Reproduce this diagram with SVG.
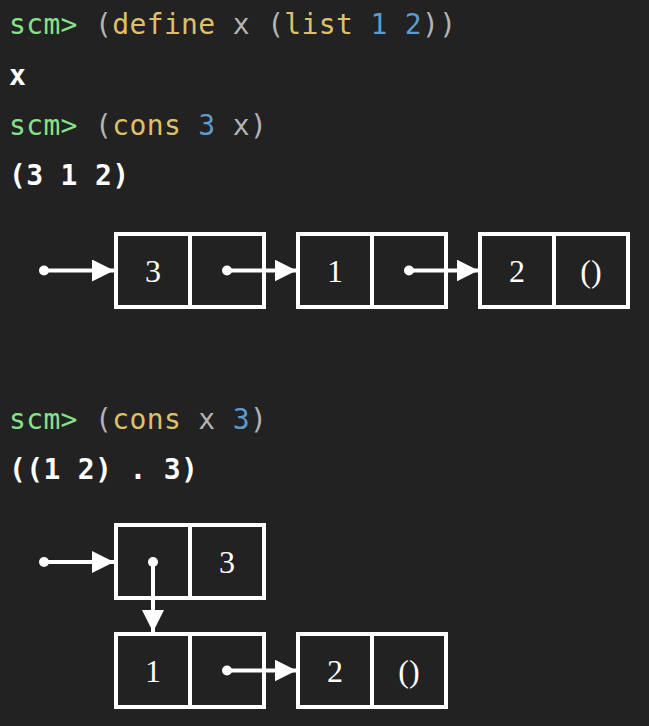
<svg xmlns="http://www.w3.org/2000/svg" width="649" height="726" viewBox="0 0 649 726">
<style>
.code{font-family:"DejaVu Sans Mono","Liberation Mono",monospace;font-size:28px;letter-spacing:0.35px;}
.out{fill:#ffffff;font-weight:bold;}
.p{fill:#b4b4b4;}
.g{fill:#86e28a;}
.y{fill:#dfc06a;}
.b{fill:#5d9bcc;}
.box{fill:none;stroke:#ffffff;stroke-width:4;}
.val{font-family:"Liberation Serif","DejaVu Serif",serif;font-size:32px;fill:#ffffff;text-anchor:middle;}
.conn{stroke:#ffffff;stroke-width:4;fill:none;marker-end:url(#ah);}
.dot{fill:#ffffff;}
</style>
<defs>
<marker id="ah" markerUnits="userSpaceOnUse" markerWidth="24" markerHeight="24" refX="22" refY="11" orient="auto">
<path d="M0,0 L22,11 L0,22 z" fill="#ffffff"/>
</marker>
</defs>
<rect width="649" height="726" fill="#222222"/>
<g id="text">
<text class="code" x="9" y="34" xml:space="preserve"><tspan class="g">scm&gt;</tspan><tspan class="p"> (</tspan><tspan class="y">define</tspan><tspan class="p"> x (</tspan><tspan class="y">list</tspan><tspan class="b"> 1 2</tspan><tspan class="p">))</tspan></text>
<text class="code out" x="9" y="85">x</text>
<text class="code" x="9" y="135" xml:space="preserve"><tspan class="g">scm&gt;</tspan><tspan class="p"> (</tspan><tspan class="y">cons</tspan><tspan class="b"> 3</tspan><tspan class="p"> x)</tspan></text>
<text class="code out" x="9" y="185">(3 1 2)</text>
<text class="code" x="9" y="429" xml:space="preserve"><tspan class="g">scm&gt;</tspan><tspan class="p"> (</tspan><tspan class="y">cons</tspan><tspan class="p"> x</tspan><tspan class="b"> 3</tspan><tspan class="p">)</tspan></text>
<text class="code out" x="9" y="479">((1 2) . 3)</text>
</g>
<g id="pair-a3">
<rect class="box" x="116" y="234" width="148" height="73"/>
<line class="box" x1="190" y1="234" x2="190" y2="307"/>
<text class="val" x="153" y="282">3</text>
</g>
<g id="pair-a1">
<rect class="box" x="298" y="234" width="148" height="73"/>
<line class="box" x1="372" y1="234" x2="372" y2="307"/>
<text class="val" x="335" y="282">1</text>
</g>
<g id="pair-a2">
<rect class="box" x="480" y="234" width="148" height="73"/>
<line class="box" x1="554" y1="234" x2="554" y2="307"/>
<text class="val" x="517" y="282">2</text>
<text class="val" x="591" y="282">()</text>
</g>
<g id="pair-b0">
<rect class="box" x="116" y="525" width="148" height="73"/>
<line class="box" x1="190" y1="525" x2="190" y2="598"/>
<text class="val" x="227" y="573">3</text>
</g>
<g id="pair-b1">
<rect class="box" x="116" y="634" width="148" height="73"/>
<line class="box" x1="190" y1="634" x2="190" y2="707"/>
<text class="val" x="153" y="682">1</text>
</g>
<g id="pair-b2">
<rect class="box" x="298" y="634" width="148" height="73"/>
<line class="box" x1="372" y1="634" x2="372" y2="707"/>
<text class="val" x="335" y="682">2</text>
<text class="val" x="409" y="682">()</text>
</g>
<g id="connectors">
<line class="conn" x1="44" y1="270.5" x2="114" y2="270.5"/>
<circle class="dot" cx="44" cy="270.5" r="5"/>
<line class="conn" x1="227" y1="270.5" x2="296.5" y2="270.5"/>
<circle class="dot" cx="227" cy="270.5" r="5"/>
<line class="conn" x1="409" y1="270.5" x2="478.5" y2="270.5"/>
<circle class="dot" cx="409" cy="270.5" r="5"/>
<line class="conn" x1="44" y1="562" x2="114" y2="562"/>
<circle class="dot" cx="44" cy="562" r="5"/>
<line class="conn" x1="153" y1="562" x2="153" y2="632"/>
<circle class="dot" cx="153" cy="562" r="5"/>
<line class="conn" x1="227" y1="670.5" x2="296.5" y2="670.5"/>
<circle class="dot" cx="227" cy="670.5" r="5"/>
</g>
</svg>
